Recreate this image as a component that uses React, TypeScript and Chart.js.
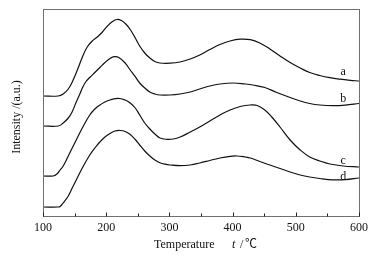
import React, { useEffect, useRef } from 'react';
import { Chart, registerables } from 'chart.js';

Chart.register(...registerables);

const SERIF = '"Liberation Serif", "Times New Roman", serif';

// Temperature (°C) sample points and intensities (a.u.) for each curve
const tempA = [100, 124, 132, 140, 147, 155, 163, 170, 178, 186, 194, 202, 210, 217, 224, 231, 238, 246, 253, 261, 269, 277, 285, 301, 317, 333, 348, 364, 380, 396, 412, 428, 443, 459, 475, 491, 507, 522, 538, 554, 570, 586, 600];
const valA = [120, 120, 122, 127, 135, 147, 160, 169, 175, 179, 184, 190, 194.5, 196.5, 195.5, 192, 186.5, 178, 170, 163, 158, 154.5, 153, 152.8, 154, 157, 161, 166.5, 171.5, 175, 176.8, 176.3, 173, 167, 160, 153.5, 148, 143.5, 140.5, 138.3, 136.8, 135.7, 135];

const tempB = [100, 124, 132, 140, 146, 152, 159, 163, 168, 174, 182, 190, 198, 206, 213, 220, 230, 238, 246, 253, 261, 269, 277, 285, 301, 317, 333, 348, 364, 380, 401, 420, 432, 451, 470, 491, 507, 522, 538, 559, 578, 600];
const valB = [90, 90, 93, 98, 104, 113, 123, 129, 134.5, 138.5, 143.5, 148.5, 153.5, 157.5, 159.3, 158.5, 153, 146, 139.3, 133, 128, 124, 122, 121, 121, 122, 124, 127, 130, 132, 133, 132, 131, 128.5, 123.5, 118.5, 115, 112.5, 111, 110.3, 110.8, 112.5];

const tempC = [100, 116, 122, 127, 132, 140, 147, 155, 163, 174, 182, 190, 198, 206, 219, 230, 238, 246, 253, 261, 269, 277, 285, 296, 306, 317, 333, 348, 364, 380, 396, 412, 428, 439, 451, 462, 475, 491, 507, 522, 538, 554, 575, 600];
const valC = [40, 40, 42, 46, 50, 60, 69, 79, 89, 101, 107, 111, 114, 116, 117.7, 116, 113, 108, 101, 93, 87, 82, 78, 76.7, 77, 79, 84, 89, 95, 101, 106, 109.5, 111, 110.5, 106, 99, 89, 76, 66, 59, 55, 52, 50, 49];

const tempD = [100, 124, 127, 132, 140, 147, 155, 163, 174, 182, 190, 198, 206, 214, 222, 230, 238, 246, 253, 261, 269, 277, 285, 293, 301, 317, 333, 348, 364, 380, 396, 407, 420, 428, 443, 459, 475, 491, 507, 522, 538, 559, 578, 600];
const valD = [9, 9, 9.5, 13, 20, 29, 39, 49, 61, 68, 74, 79, 82.5, 85, 85.5, 84.5, 81.5, 76.5, 71, 65, 60, 56, 53.3, 51.8, 51, 50.3, 51, 53, 55.5, 58, 59.7, 60, 59, 58, 54.5, 51, 47.5, 44, 41, 39, 37.5, 36.2, 36.3, 38];

const curveNames = ['a', 'b', 'c', 'd'];
const labelTemp = 575;
const labelVals = [144, 117, 55, 39];

const xMin = 100;
const xMax = 600;
const yMin = 0;
const yMax = 207;

const toPoints = (t: number[], v: number[]) => t.map((x, i) => ({ x, y: v[i] }));

const decorPlugin = {
  id: 'decor',
  afterDraw(chart: any) {
    const { ctx, chartArea, scales } = chart;
    const xs = scales.x;
    const ys = scales.y;
    const L = Math.round(chartArea.left) + 0.5;
    const R = Math.round(chartArea.right) + 0.5;
    const T = Math.round(chartArea.top) + 0.5;
    const B = Math.round(chartArea.bottom) + 0.5;
    ctx.save();
    ctx.strokeStyle = '#707070';
    ctx.lineWidth = 1;
    ctx.strokeRect(L, T, R - L, B - T);
    ctx.strokeStyle = '#222';
    for (let v = xMin; v <= xMax; v += 50) {
      const px = Math.round(xs.getPixelForValue(v)) + 0.5;
      const len = v % 100 === 0 ? 4 : 3;
      ctx.beginPath();
      ctx.moveTo(px, B);
      ctx.lineTo(px, B - len);
      ctx.stroke();
    }
    ctx.fillStyle = '#111';
    ctx.font = `12px ${SERIF}`;
    ctx.textAlign = 'center';
    ctx.textBaseline = 'middle';
    curveNames.forEach((n, i) => {
      ctx.fillText(n, xs.getPixelForValue(labelTemp), ys.getPixelForValue(labelVals[i]));
    });
    ctx.textBaseline = 'alphabetic';
    ctx.textAlign = 'left';
    ctx.font = `12px ${SERIF}`;
    ctx.fillText('Temperature', 154, 248);
    ctx.font = `italic 12px ${SERIF}`;
    ctx.fillText('t', 232, 248);
    ctx.font = `12px ${SERIF}`;
    ctx.fillText('/', 240, 248);
    ctx.font = `12px "Noto Sans CJK SC", ${SERIF}`;
    ctx.fillText('℃', 245, 248);
    ctx.translate(17, 117);
    ctx.rotate(-Math.PI / 2);
    ctx.textAlign = 'center';
    ctx.textBaseline = 'middle';
    ctx.font = `12px ${SERIF}`;
    ctx.fillText('Intensity /(a.u.)', 0, 0);
    ctx.restore();
  },
};

export default function App() {
  const ref = useRef<HTMLCanvasElement>(null);
  useEffect(() => {
    if (!ref.current) return;
    const series = [
      toPoints(tempA, valA),
      toPoints(tempB, valB),
      toPoints(tempC, valC),
      toPoints(tempD, valD),
    ];
    const chart = new Chart(ref.current, {
      type: 'line',
      data: {
        datasets: series.map((d, i) => ({
          label: curveNames[i],
          data: d,
          borderColor: '#111',
          borderWidth: 1.2,
          pointRadius: 0,
          fill: false,
          tension: 0.4,
        })),
      },
      options: {
        animation: false,
        responsive: true,
        maintainAspectRatio: false,
        layout: { padding: { left: 0, top: 9, right: 15, bottom: 0 } },
        plugins: { legend: { display: false }, tooltip: { enabled: false } },
        scales: {
          x: {
            type: 'linear',
            min: xMin,
            max: xMax,
            afterFit: (s: any) => { s.height = 40; },
            grid: { display: false, drawTicks: false, tickLength: 0 },
            border: { display: false },
            ticks: {
              stepSize: 100,
              padding: 5,
              color: '#111',
              font: { family: SERIF, size: 12 },
              maxRotation: 0,
            },
          },
          y: {
            type: 'linear',
            min: yMin,
            max: yMax,
            afterFit: (s: any) => { s.width = 43; },
            grid: { display: false, drawTicks: false },
            border: { display: false },
            ticks: { display: false },
          },
        },
      },
      plugins: [decorPlugin],
    });
    return () => chart.destroy();
  }, []);
  return (
    <div style={{ position: 'absolute', left: 0, top: 0, width: 374, height: 256, background: '#fff' }}>
      <canvas ref={ref} />
    </div>
  );
}
